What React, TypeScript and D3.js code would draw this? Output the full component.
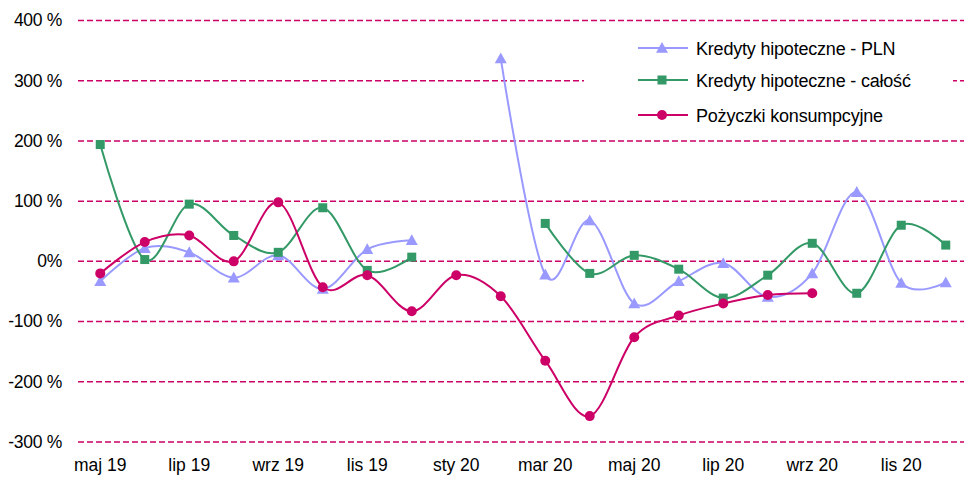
import React from "react";
import * as d3 from "d3";

const months = [
  "maj 19", "cze 19", "lip 19", "sie 19", "wrz 19", "paź 19", "lis 19", "gru 19",
  "sty 20", "lut 20", "mar 20", "kwi 20", "maj 20", "cze 20", "lip 20", "sie 20",
  "wrz 20", "paź 20", "lis 20", "gru 20",
];
const tickLabels = ["maj 19", "lip 19", "wrz 19", "lis 19", "sty 20", "mar 20", "maj 20", "lip 20", "wrz 20", "lis 20"];
const yTicks = [400, 300, 200, 100, 0, -100, -200, -300];

const plnValues: (number | null)[] = [
  -33, 22, 15, -27, 10, -46, 20, 35,
  null, 337, -22, 68, -70, -33, -3, -59,
  -20, 115, -36, -35,
];
const totalValues: (number | null)[] = [
  194, 3, 95, 43, 15, 89, -15, 7,
  null, null, 63, -20, 10, -13, -61, -23,
  30, -53, 60, 27,
];
const consumerValues: (number | null)[] = [
  -20, 32, 43, 0, 98, -43, -23, -83,
  -23, -58, -165, -257, -126, -90, -70, -56,
  -53, null, null, null,
];

const seriesNames = ["Kredyty hipoteczne - PLN", "Kredyty hipoteczne - całość", "Pożyczki konsumpcyjne"];

const W = 964;
const H = 477;
const FONT = "'Liberation Sans', Arial, sans-serif";
const GRID = "#CC0066";
const colors = ["#9999FF", "#339966", "#CC0066"];

function Marker({ kind, x, y, color }: { kind: string; x: number; y: number; color: string }) {
  if (kind === "tri") {
    const s = 6;
    return <path d={`M${x},${y - s} L${x + s},${y + s * 0.8} L${x - s},${y + s * 0.8} Z`} fill={color} />;
  }
  if (kind === "sq") {
    return <rect x={x - 4.5} y={y - 4.5} width={9} height={9} fill={color} />;
  }
  return <circle cx={x} cy={y} r={5} fill={color} />;
}

export default function App() {
  const x = d3.scaleBand<string>().domain(months).range([78, 968]);
  const y = d3.scaleLinear().domain([-300, 400]).range([442, 20.5]);
  const cx = (m: string) => (x(m) as number) + x.bandwidth() / 2;

  const line = d3
    .line<number | null>()
    .defined((d) => d !== null)
    .x((_, i) => cx(months[i]))
    .y((d) => y(d as number))
    .curve(d3.curveCatmullRom.alpha(0));

  const all = [plnValues, totalValues, consumerValues];
  const kinds = ["tri", "sq", "circ"];

  return (
    <svg width={W} height={H} style={{ position: "absolute", left: 0, top: 0, background: "#fff" }}>
      {yTicks.map((t) => (
        <g key={t}>
          <line x1={78} x2={W} y1={y(t)} y2={y(t)} stroke={GRID} strokeWidth={1.5} strokeDasharray="6,3" />
          <text x={62} y={y(t) + 5.8} textAnchor="end" fontFamily={FONT} fontSize={17.5} fill="#000" letterSpacing={-0.3}>
            {t === 0 ? "0%" : `${t} %`}
          </text>
        </g>
      ))}
      {tickLabels.map((m) => (
        <text key={m} x={cx(m)} y={471} textAnchor="middle" fontFamily={FONT} fontSize={17.5} fill="#000">
          {m}
        </text>
      ))}
      <rect x={584} y={30} width={369} height={100} fill="#fff" />
      {all.map((vals, si) => (
        <g key={si}>
          <path d={line(vals) || ""} fill="none" stroke={colors[si]} strokeWidth={2} />
          {vals.map((v, i) =>
            v === null ? null : <Marker key={i} kind={kinds[si]} x={cx(months[i])} y={y(v)} color={colors[si]} />
          )}
        </g>
      ))}
      {seriesNames.map((n, i) => {
        const ly = [48, 80, 115][i];
        return (
          <g key={n}>
            <line x1={638} x2={688} y1={ly} y2={ly} stroke={colors[i]} strokeWidth={2} />
            <Marker kind={kinds[i]} x={662} y={ly} color={colors[i]} />
            <text x={696} y={ly + 7} fontFamily={FONT} fontSize={18} fill="#000" letterSpacing={-0.2}>
              {n}
            </text>
          </g>
        );
      })}
    </svg>
  );
}
